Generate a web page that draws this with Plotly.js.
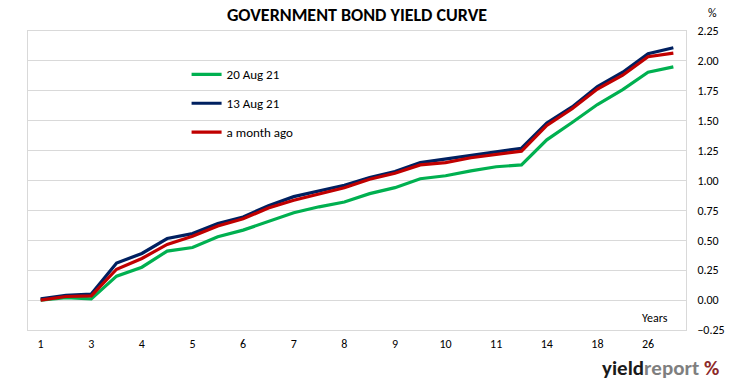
<!DOCTYPE html>
<html>
<head>
<meta charset="utf-8">
<script src="https://cdn.plot.ly/plotly-3.0.1.min.js"></script>
<style>html,body{margin:0;padding:0;background:#fff}#chart{width:731px;height:381px}</style>
</head>
<body>
<div id="chart"></div>
<script>
// Tick labels (years) shown on every other bond
var tickLabels = ["1", "3", "4", "5", "6", "7", "8", "9", "10", "11", "14", "18", "26"];
// Bond index positions (26 bonds along the curve)
var bondIndex = [0,1,2,3,4,5,6,7,8,9,10,11,12,13,14,15,16,17,18,19,20,21,22,23,24,25];

var aug20 = [0.00, 0.02, 0.01, 0.20, 0.275, 0.41, 0.44, 0.53, 0.585, 0.66, 0.73, 0.78, 0.82, 0.89, 0.94, 1.015, 1.04, 1.08, 1.115, 1.13, 1.34, 1.485, 1.635, 1.76, 1.905, 1.95];
var aug13 = [0.01, 0.04, 0.05, 0.31, 0.39, 0.515, 0.556, 0.64, 0.695, 0.79, 0.865, 0.91, 0.96, 1.025, 1.075, 1.15, 1.18, 1.215, 1.245, 1.27, 1.48, 1.615, 1.785, 1.905, 2.06, 2.11];
var monthAgo = [0.00, 0.03, 0.035, 0.258, 0.348, 0.466, 0.534, 0.62, 0.68, 0.77, 0.835, 0.885, 0.94, 1.01, 1.06, 1.13, 1.15, 1.19, 1.215, 1.245, 1.46, 1.60, 1.765, 1.88, 2.035, 2.065];

var seriesNames = ["20 Aug 21", "13 Aug 21", "a month ago"];
var seriesColors = ["#00b050", "#002060", "#c00000"];
var seriesData = [aug20, aug13, monthAgo];

var tickVals = [];
for (var i = 0; i < tickLabels.length; i++) tickVals.push(bondIndex[i * 2]);

var traces = seriesData.map(function (d, k) {
  return {
    x: bondIndex, y: d, type: "scatter", mode: "lines",
    name: seriesNames[k], legendgroup: "g" + k,
    line: {color: seriesColors[k], width: 3.2}
  };
});

var font = "Carlito, 'Liberation Sans Narrow', 'Open Sans', sans-serif";
var layout = {
  width: 731, height: 381,
  margin: {l: 28, r: 45, t: 31, b: 51},
  paper_bgcolor: "#ffffff", plot_bgcolor: "#ffffff",
  font: {family: font, size: 12, color: "#000"},
  title: {text: "<b>GOVERNMENT BOND YIELD CURVE</b>", x: 0.5, xanchor: "center", xref: "paper", y: 0.962, yanchor: "middle", font: {family: font, size: 18, color: "#000"}},
  showlegend: true,
  legend: {x: 0.241, xanchor: "left", y: 0.905, yanchor: "top", bgcolor: "rgba(0,0,0,0)", borderwidth: 0,
           traceorder: "grouped", tracegroupgap: 9, font: {family: font, size: 13, color: "#000"}, itemwidth: 30},
  xaxis: {range: [-0.5, 25.5], tickmode: "array", tickvals: tickVals, ticktext: tickLabels,
          showgrid: false, zeroline: false, showline: true, linecolor: "#d9d9d9", linewidth: 1, mirror: true,
          ticks: "", tickfont: {family: font, size: 12, color: "#000"}, ticklabelstandoff: 3},
  yaxis: {range: [-0.25, 2.25], side: "right", dtick: 0.25, tick0: 0, tickformat: ".2f",
          showgrid: true, gridcolor: "#d9d9d9", gridwidth: 1, zeroline: false,
          showline: true, linecolor: "#d9d9d9", linewidth: 1, mirror: true,
          ticks: "", tickfont: {family: font, size: 12, color: "#000"}, ticklabelstandoff: 8},
  annotations: [
    {text: "%", xref: "paper", yref: "paper", x: 1.04, y: 1.06, xanchor: "center", yanchor: "middle", showarrow: false, font: {family: font, size: 12, color: "#000"}},
    {text: "Years", xref: "paper", yref: "paper", x: 0.975, y: 0.04, xanchor: "right", yanchor: "middle", showarrow: false, font: {family: font, size: 12, color: "#000"}},
    {text: "<b>yield</b><b><span style='color:#7f7f7f'>report</span></b> <b><span style='color:#8c2a2a'>%</span></b>", xref: "paper", yref: "paper", x: 1.052, y: -0.126, xanchor: "right", yanchor: "middle", showarrow: false, borderpad: 0, font: {family: font, size: 21, color: "#1a1a1a"}}
  ]
};

Plotly.newPlot("chart", traces, layout, {displayModeBar: false, staticPlot: true});
</script>
</body>
</html>
